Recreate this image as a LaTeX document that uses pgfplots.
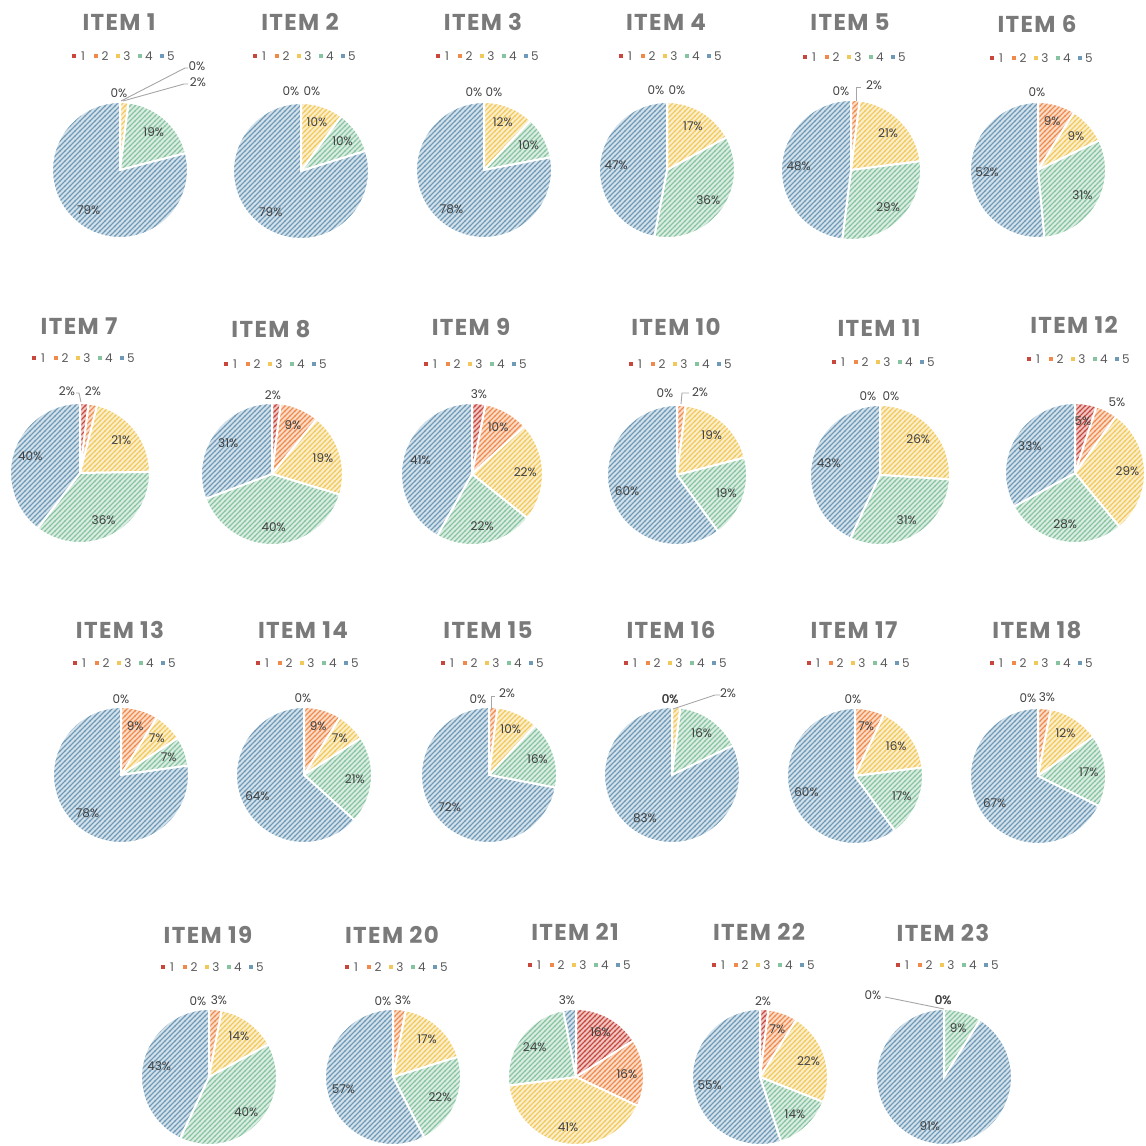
\documentclass[border=0pt]{standalone}
\usepackage{fontspec}
\setmainfont{Poppins}
\newfontfamily\ttlfont[LetterSpace=6]{Poppins}
\usepackage{pgfplots}
\pgfplotsset{compat=1.18}
\usetikzlibrary{patterns}
\pgfdeclarepatternformonly{hatch}{\pgfqpoint{-1pt}{-1pt}}{\pgfqpoint{6pt}{6pt}}{\pgfqpoint{5pt}{5pt}}{%
  \pgfsetlinewidth{1.0pt}%
  \pgfpathmoveto{\pgfqpoint{-0.5pt}{-0.5pt}}%
  \pgfpathlineto{\pgfqpoint{5.5pt}{5.5pt}}%
  \pgfusepath{stroke}}
\definecolor{cA}{HTML}{C8463C}
\definecolor{cB}{HTML}{F08A4B}
\definecolor{cC}{HTML}{F2C85A}
\definecolor{cD}{HTML}{86C4A0}
\definecolor{cE}{HTML}{6E9AB8}
\definecolor{lblgray}{HTML}{404040}
\definecolor{ttlgray}{HTML}{7A7A7A}
\definecolor{leggray}{HTML}{595959}
\definecolor{leadgray}{HTML}{A6A6A6}
\tikzset{
  lbl/.style={font=\fontsize{12}{13}\selectfont, text=lblgray, inner sep=0pt},
  ttl/.style={font=\ttlfont\fontsize{23}{26}\selectfont\bfseries, text=ttlgray, inner sep=0pt},
  lg/.style={font=\fontsize{12}{13}\selectfont, text=leggray, inner sep=0pt},
  leader/.style={draw=leadgray, line width=0.9pt}
}
% one slice: #1 cx, #2 cy (pixels, downwards), #3 r, #4 cumulative start, #5 value, #6 sum, #7 colour
\newcommand{\slice}[7]{%
  \ifdim #5pt>0pt\relax
    \pgfmathsetmacro{\aA}{90-(#4+#5)/#6*360}%
    \pgfmathsetmacro{\aB}{90-(#4)/#6*360}%
    \pgfmathsetmacro{\aM}{90-(#4+#5/2)/#6*360}%
    \pgfmathsetmacro{\lx}{#1+0.75*#3*cos(\aM)}%
    \pgfmathsetmacro{\ly}{-#2+0.75*#3*sin(\aM)}%
    \edef\doslice{\noexpand\addplot[draw=none, preaction={fill=#7!30},
      pattern=hatch, pattern color=#7,
      postaction={draw=white, line width=2pt},
      domain=\aA:\aB, samples=72]
      ({#1+#3*cos(x)},{-#2+#3*sin(x)}) -- (axis cs:#1,-#2) -- cycle;}%
    \doslice
    \ifdim #5pt>5.5pt\relax
      \edef\donode{\noexpand\node[lbl] at (axis cs:\lx,\ly) {#5\noexpand\%};}%
      \donode
    \fi
  \fi}
\newcommand{\pie}[8]{%
  \pgfmathsetmacro{\psum}{#4+#5+#6+#7+#8}%
  \pgfmathsetmacro{\cumB}{#4}%
  \pgfmathsetmacro{\cumC}{#4+#5}%
  \pgfmathsetmacro{\cumD}{#4+#5+#6}%
  \pgfmathsetmacro{\cumE}{#4+#5+#6+#7}%
  \slice{#1}{#2}{#3}{0}{#4}{\psum}{cA}%
  \slice{#1}{#2}{#3}{\cumB}{#5}{\psum}{cB}%
  \slice{#1}{#2}{#3}{\cumC}{#6}{\psum}{cC}%
  \slice{#1}{#2}{#3}{\cumD}{#7}{\psum}{cD}%
  \slice{#1}{#2}{#3}{\cumE}{#8}{\psum}{cE}%
}
\newcommand{\legkey}[4]{%
  \pgfmathsetmacro{\sxa}{#1-2.4}\pgfmathsetmacro{\sxb}{#1+2.4}%
  \pgfmathsetmacro{\sya}{-#2-2.4}\pgfmathsetmacro{\syb}{-#2+2.4}%
  \pgfmathsetmacro{\lgx}{#1+9}%
  \edef\dokey{\noexpand\fill[#3] (axis cs:\sxa,\sya) rectangle (axis cs:\sxb,\syb);
    \noexpand\node[lg] at (axis cs:\lgx,-#2) {#4};}%
  \dokey}
% #1 number, #2 cx, #3 title y, #4 legend y
\newcommand{\header}[4]{%
  \pgfmathsetmacro{\tx}{#2-1}%
  \edef\dottl{\noexpand\node[ttl] at (axis cs:\tx,-#3) {ITEM #1};}\dottl
  \pgfmathsetmacro{\ka}{#2+2-48}\pgfmathsetmacro{\kb}{#2+2-26}%
  \pgfmathsetmacro{\kc}{#2+2-4}\pgfmathsetmacro{\kd}{#2+2+18}%
  \pgfmathsetmacro{\ke}{#2+2+40}%
  \legkey{\ka}{#4}{cA}{1}\legkey{\kb}{#4}{cB}{2}\legkey{\kc}{#4}{cC}{3}%
  \legkey{\kd}{#4}{cD}{4}\legkey{\ke}{#4}{cE}{5}%
}
\begin{document}
\begin{tikzpicture}
\begin{axis}[x=1pt, y=1pt, xmin=0, xmax=1146, ymin=-1145, ymax=0,
  hide axis, clip=false]
\path (axis cs:0,0) rectangle (axis cs:1146,-1145);
% ---------- row 1 ----------
\pie{120}{170}{68}{0}{0}{2}{19}{79}
\pie{301}{171}{68}{0}{0}{10}{10}{79}
\pie{484}{170}{68}{0}{0}{12}{10}{78}
\pie{667}{170}{68}{0}{0}{17}{36}{47}
\pie{851}{170}{70}{0}{2}{21}{29}{48}
\pie{1038}{170}{68}{0}{9}{9}{31}{52}
% ---------- row 2 ----------
\pie{80}{473}{70}{2}{2}{21}{36}{40}
\pie{272}{474}{71}{2}{9}{19}{40}{31}
\pie{472}{474}{71}{3}{10}{22}{22}{41}
\pie{677}{475}{70}{0}{2}{19}{19}{60}
\pie{880}{475}{70}{0}{0}{26}{31}{43}
\pie{1075}{473}{70}{5}{5}{29}{28}{33}
% ---------- row 3 ----------
\pie{121}{775}{68}{0}{9}{7}{7}{78}
\pie{304}{775}{68}{0}{9}{7}{21}{64}
\pie{489}{775}{68}{0}{2}{10}{16}{72}
\pie{672}{775}{68}{0}{0}{2}{16}{83}
\pie{855}{776}{68}{0}{7}{16}{17}{60}
\pie{1038}{776}{68}{0}{3}{12}{17}{67}
% ---------- row 4 ----------
\pie{209}{1077}{68}{0}{3}{14}{40}{43}
\pie{393}{1077}{68}{0}{3}{17}{22}{57}
\pie{576}{1077}{68}{16}{16}{41}{24}{3}
\pie{760}{1077}{68}{2}{7}{22}{14}{55}
\pie{944}{1077}{68}{0}{0}{0}{9}{91}
% ---------- titles and legends ----------
\header{1}{120}{22}{56}
\header{2}{301}{22}{56}
\header{3}{484}{22}{56}
\header{4}{667}{22}{56}
\header{5}{851}{22}{57}
\header{6}{1038}{24}{58}
\header{7}{80}{326}{358}
\header{8}{272}{329}{364}
\header{9}{472}{327}{364}
\header{10}{677}{327}{364}
\header{11}{880}{328}{362}
\header{12}{1075}{325}{359}
\header{13}{121}{630}{663}
\header{14}{304}{630}{663}
\header{15}{489}{630}{663}
\header{16}{672}{630}{663}
\header{17}{855}{630}{663}
\header{18}{1038}{630}{663}
\header{19}{209}{935}{967}
\header{20}{393}{935}{967}
\header{21}{576}{932}{965}
\header{22}{760}{932}{965}
\header{23}{944}{933}{965}
% ---------- small-slice labels ----------
% item 1
\node[lbl] at (axis cs:119,-93) {0\%};
\draw[leader] (axis cs:121,-101) -- (axis cs:185,-68) -- (axis cs:188,-68);
\node[lbl] at (axis cs:197,-66) {0\%};
\draw[leader] (axis cs:123,-101) -- (axis cs:184,-84) -- (axis cs:188,-84);
\node[lbl] at (axis cs:198,-82) {2\%};
% items 2-6
\node[lbl] at (axis cs:291,-91) {0\%};
\node[lbl] at (axis cs:312,-91) {0\%};
\node[lbl] at (axis cs:474,-92) {0\%};
\node[lbl] at (axis cs:494,-92) {0\%};
\node[lbl] at (axis cs:656,-90) {0\%};
\node[lbl] at (axis cs:677,-90) {0\%};
\node[lbl] at (axis cs:841,-91) {0\%};
\draw[leader] (axis cs:856,-101) -- (axis cs:856,-87) -- (axis cs:861,-87);
\node[lbl] at (axis cs:874,-85) {2\%};
\node[lbl] at (axis cs:1037,-92) {0\%};
% items 7-12
\node[lbl] at (axis cs:67,-391) {2\%};
\draw[leader] (axis cs:81,-402) -- (axis cs:79,-393) -- (axis cs:76,-393);
\node[lbl] at (axis cs:93,-391) {2\%};
\node[lbl] at (axis cs:273,-395) {2\%};
\node[lbl] at (axis cs:479,-394) {3\%};
\node[lbl] at (axis cs:665,-393) {0\%};
\draw[leader] (axis cs:681,-404) -- (axis cs:682,-393) -- (axis cs:689,-393);
\node[lbl] at (axis cs:700,-392) {2\%};
\node[lbl] at (axis cs:868,-396) {0\%};
\node[lbl] at (axis cs:891,-396) {0\%};
\node[lbl] at (axis cs:1083,-421) {5\%};
\node[lbl] at (axis cs:1117,-402) {5\%};
% items 13-18
\node[lbl] at (axis cs:121,-699) {0\%};
\node[lbl] at (axis cs:303,-698) {0\%};
\node[lbl] at (axis cs:478,-699) {0\%};
\draw[leader] (axis cs:491,-709) -- (axis cs:491,-696) -- (axis cs:495,-696);
\node[lbl] at (axis cs:507,-693) {2\%};
\node[lbl] at (axis cs:670,-699) {0\%};
\node[lbl] at (axis cs:670.4,-699) {0\%};
\draw[leader] (axis cs:673,-709) -- (axis cs:715,-695) -- (axis cs:720,-695);
\node[lbl] at (axis cs:728,-693) {2\%};
\node[lbl] at (axis cs:853,-699) {0\%};
\node[lbl] at (axis cs:1028,-698) {0\%};
\node[lbl] at (axis cs:1047,-697) {3\%};
% items 19-23
\node[lbl] at (axis cs:198,-1001) {0\%};
\node[lbl] at (axis cs:219,-1000) {3\%};
\node[lbl] at (axis cs:383,-1001) {0\%};
\node[lbl] at (axis cs:403,-1000) {3\%};
\node[lbl] at (axis cs:567,-1000) {3\%};
\node[lbl] at (axis cs:763,-1001) {2\%};
\node[lbl] at (axis cs:943,-1000) {0\%};
\node[lbl] at (axis cs:943.4,-1000) {0\%};
\draw[leader] (axis cs:885,-997) -- (axis cs:944,-1009);
\node[lbl] at (axis cs:873,-995) {0\%};
\end{axis}
\end{tikzpicture}
\end{document}
